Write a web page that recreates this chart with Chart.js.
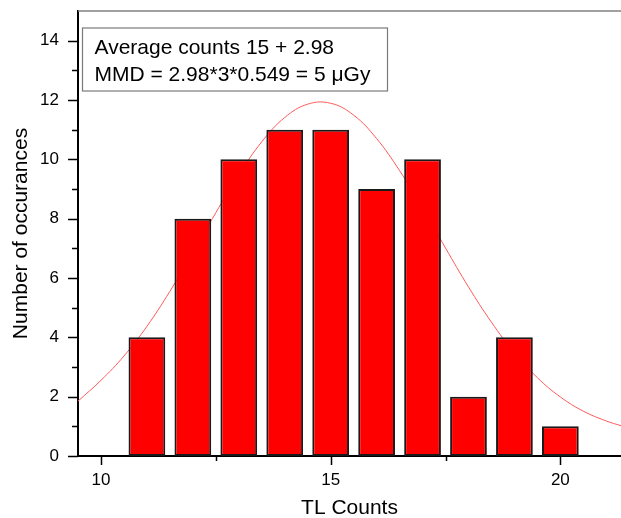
<!DOCTYPE html>
<html>
<head>
<meta charset="utf-8">
<script src="https://cdn.jsdelivr.net/npm/chart.js@4.4.1/dist/chart.umd.min.js"></script>
<style>
  html, body { margin: 0; padding: 0; background: #fff; }
  #wrap { width: 621px; height: 518px; }
</style>
</head>
<body>
<div id="wrap"><canvas id="histChart" width="621" height="518"></canvas></div>
<script>
// histogram: TL counts and how often each occurred
const tlCounts = [11, 12, 13, 14, 15, 16, 17, 18, 19, 20];
const occurrences = [4, 8, 10, 11, 11, 9, 10, 2, 4, 1];

// fitted curve, every half count
const fitX = [9.5, 10, 10.5, 11, 11.5, 12, 12.5, 13, 13.5, 14, 14.5, 15, 15.5,
  16, 16.5, 17, 17.5, 18, 18.5, 19, 19.5, 20, 20.5, 21, 21.32];
const fitY = [1.85, 2.55, 3.37, 4.37, 5.55, 6.85, 8.2, 9.48, 10.59, 11.41, 11.86, 11.89, 11.49,
  10.7, 9.62, 8.36, 7.01, 5.7, 4.51, 3.48, 2.64, 1.99, 1.51, 1.18, 1.02];

const xTicks = [10, 15, 20];
const xMinorTicks = [12.5, 17.5];
const yTicks = [0, 2, 4, 6, 8, 10, 12, 14];
const yMinorTicks = [1, 3, 5, 7, 9, 11, 13];

const noteLines = ["Average counts 15 + 2.98", "MMD = 2.98*3*0.549 = 5 \u03BCGy"];

const FONT = "'Liberation Sans', Arial, sans-serif";

const framePlugin = {
  id: "frame",
  afterDraw(chart) {
    const ctx = chart.ctx;
    const area = chart.chartArea;
    const xs = chart.scales.x;
    const ys = chart.scales.y;
    ctx.save();

    // top frame line
    ctx.strokeStyle = "#808080";
    ctx.lineWidth = 1.5;
    ctx.beginPath();
    ctx.moveTo(area.left, area.top);
    ctx.lineTo(area.right, area.top);
    ctx.stroke();

    // tick marks, pointing out
    ctx.strokeStyle = "#000";
    ctx.lineWidth = 1.5;
    ctx.beginPath();
    yTicks.forEach((v) => {
      const y = Math.round(ys.getPixelForValue(v)) + 0.5;
      ctx.moveTo(area.left - 10, y);
      ctx.lineTo(area.left, y);
    });
    yMinorTicks.forEach((v) => {
      const y = Math.round(ys.getPixelForValue(v)) + 0.5;
      ctx.moveTo(area.left - 6, y);
      ctx.lineTo(area.left, y);
    });
    xTicks.forEach((v) => {
      const x = Math.round(xs.getPixelForValue(v)) + 0.5;
      ctx.moveTo(x, area.bottom);
      ctx.lineTo(x, area.bottom + 9);
    });
    xMinorTicks.forEach((v) => {
      const x = Math.round(xs.getPixelForValue(v)) + 0.5;
      ctx.moveTo(x, area.bottom);
      ctx.lineTo(x, area.bottom + 5);
    });
    ctx.stroke();

    // note box
    const bx = area.left + 4.5;
    const by = area.top + 17;
    ctx.fillStyle = "#fff";
    ctx.fillRect(bx, by, 305, 63);
    ctx.strokeStyle = "#7a7a7a";
    ctx.lineWidth = 1.2;
    ctx.strokeRect(bx, by, 305, 63);
    ctx.fillStyle = "#000";
    ctx.font = "21px " + FONT;
    ctx.textBaseline = "alphabetic";
    ctx.fillText(noteLines[0], bx + 12, by + 26);
    ctx.fillText(noteLines[1], bx + 12, by + 53);
    ctx.restore();
  },
};

new Chart(document.getElementById("histChart"), {
  type: "bar",
  data: {
    datasets: [
      {
        type: "bar",
        data: tlCounts.map((x, i) => ({ x, y: occurrences[i] })),
        backgroundColor: "#ff0000",
        borderColor: "#1a1a1a",
        borderWidth: 2,
        borderSkipped: false,
        barPercentage: 0.8,
        categoryPercentage: 1,
        order: 1,
      },
      {
        type: "line",
        data: fitX.map((x, i) => ({ x, y: fitY[i] })),
        borderColor: "#ff5a5a",
        borderWidth: 1,
        pointRadius: 0,
        fill: false,
        tension: 0.4,
        order: 2,
      },
    ],
  },
  options: {
    responsive: false,
    animation: false,
    layout: { autoPadding: false, padding: { top: 11, right: 0, left: 0, bottom: 0 } },
    plugins: { legend: { display: false }, tooltip: { enabled: false } },
    scales: {
      x: {
        type: "linear",
        min: 9.5,
        max: 21.32,
        offset: false,
        afterFit: (s) => { s.height = 62; },
        afterBuildTicks: (s) => { s.ticks = xTicks.map((v) => ({ value: v })); },
        grid: { display: false, tickLength: 8 },
        border: { display: true, color: "#000", width: 2 },
        ticks: { color: "#000", padding: 6, maxRotation: 0, font: { family: FONT, size: 17 } },
        title: {
          display: true,
          text: "TL Counts",
          color: "#000",
          font: { family: FONT, size: 21 },
          padding: { top: 0, bottom: -3 },
        },
      },
      y: {
        min: 0,
        max: 15,
        afterFit: (s) => { s.width = 78; },
        afterBuildTicks: (s) => { s.ticks = yTicks.map((v) => ({ value: v })); },
        grid: { display: false, tickLength: 19 },
        border: { display: true, color: "#000", width: 2 },
        ticks: { color: "#000", padding: 0, font: { family: FONT, size: 17 } },
        title: {
          display: true,
          text: "Number of occurances",
          color: "#000",
          font: { family: FONT, size: 21 },
          padding: { top: 9, bottom: 0 },
        },
      },
    },
  },
  plugins: [framePlugin],
});
</script>
</body>
</html>
